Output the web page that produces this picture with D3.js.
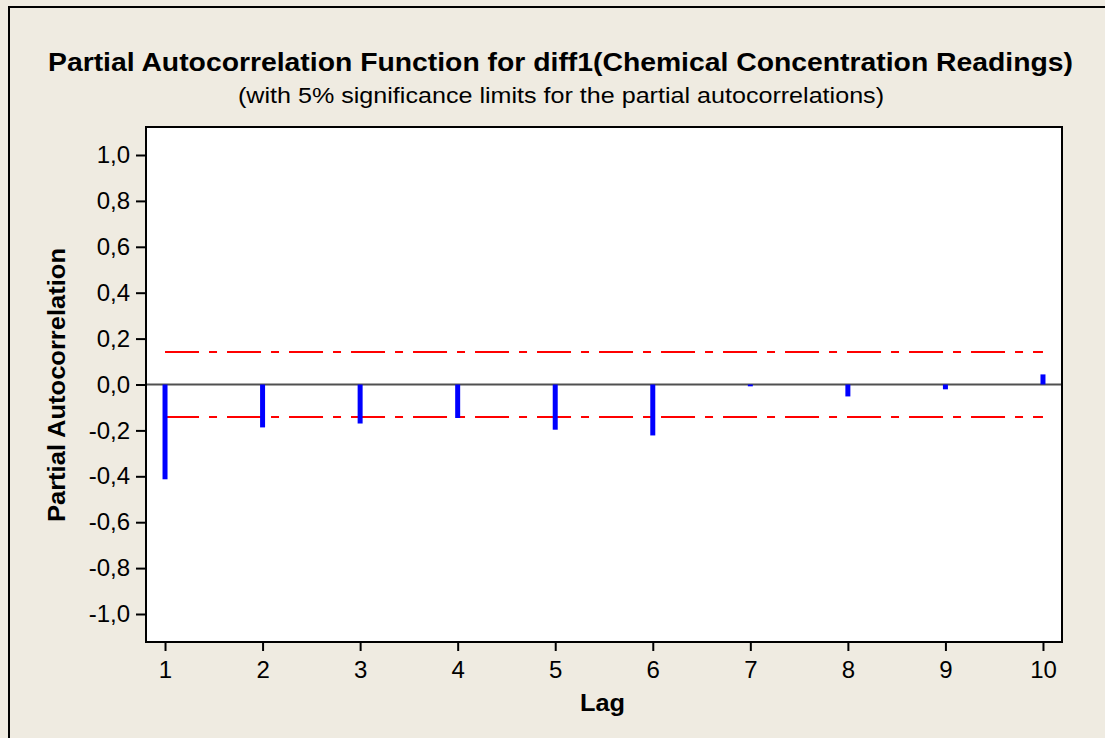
<!DOCTYPE html>
<html>
<head>
<meta charset="utf-8">
<script src="https://cdn.jsdelivr.net/npm/d3@7"></script>
<style>
  body { margin: 0; background: #EFEBE1; }
  svg { display: block; }
  text { font-family: "Liberation Sans", Arial, sans-serif; fill: #000; }
</style>
</head>
<body>
<div id="chart"></div>
<script>
// ========= Data =========
const lags = [1, 2, 3, 4, 5, 6, 7, 8, 9, 10];
const pacf = [-0.413, -0.187, -0.170, -0.146, -0.197, -0.222, -0.008, -0.052, -0.021, 0.044];
const yTicks = [-1.0, -0.8, -0.6, -0.4, -0.2, 0.0, 0.2, 0.4, 0.6, 0.8, 1.0];
const sigLimit = [0.1414, -0.1414];

const title = 'Partial Autocorrelation Function for diff1(Chemical Concentration Readings)';
const subtitle = '(with 5% significance limits for the partial autocorrelations)';

// ========= Layout =========
const width = 1105, height = 738;
const plot = {left: 146, right: 1062, top: 127, bottom: 642};

const svg = d3.select('#chart')
  .append('svg')
  .attr('width', width)
  .attr('height', height);

svg.append('rect')
  .attr('x', 0).attr('y', 0)
  .attr('width', width).attr('height', height)
  .attr('fill', '#EFEBE1');

// outer frame (only top/left visible in the picture)
svg.append('path')
  .attr('d', `M9,${height} V7 H${width}`)
  .attr('fill', 'none')
  .attr('stroke', '#000')
  .attr('stroke-width', 2);

const x = d3.scaleLinear().domain([0.805, 10.195]).range([plot.left, plot.right]);
const y = d3.scaleLinear().domain([-1.122, 1.122]).range([plot.bottom, plot.top]);

const locale = d3.formatLocale({decimal: ',', thousands: '.', grouping: [3], currency: ['', ''], minus: '-'});
const fmt = locale.format('.1f');

// plot background
svg.append('rect')
  .attr('x', plot.left).attr('y', plot.top)
  .attr('width', plot.right - plot.left)
  .attr('height', plot.bottom - plot.top)
  .attr('fill', '#fff');

// ========= Axes =========
const yAxis = svg.append('g')
  .attr('transform', `translate(${plot.left},0)`)
  .call(d3.axisLeft(y).tickValues(yTicks).tickFormat(fmt).tickSize(10).tickPadding(6));

const xAxis = svg.append('g')
  .attr('transform', `translate(0,${plot.bottom})`)
  .call(d3.axisBottom(x).tickValues(lags).tickFormat(d3.format('d')).tickSize(9).tickPadding(10));

[yAxis, xAxis].forEach(g => {
  g.select('.domain').remove();
  g.selectAll('line').attr('stroke', '#000').attr('stroke-width', 2);
  g.selectAll('text')
    .style('font-family', '"Liberation Sans", Arial, sans-serif')
    .style('font-size', '24px')
    .attr('fill', '#000');
});

// ========= Zero line & limits =========
svg.append('line')
  .attr('x1', plot.left).attr('x2', plot.right)
  .attr('y1', y(0)).attr('y2', y(0))
  .attr('stroke', '#505050')
  .attr('stroke-width', 2);

svg.selectAll('.limit')
  .data(sigLimit)
  .enter()
  .append('line')
  .attr('class', 'limit')
  .attr('x1', x(lags[0]))
  .attr('x2', x(lags[lags.length - 1]))
  .attr('y1', d => y(d))
  .attr('y2', d => y(d))
  .attr('stroke', '#FF0000')
  .attr('stroke-width', 2)
  .attr('stroke-dasharray', '34,10,8,10');

// ========= Bars =========
svg.selectAll('.bar')
  .data(lags)
  .enter()
  .append('line')
  .attr('class', 'bar')
  .attr('x1', d => x(d))
  .attr('x2', d => x(d))
  .attr('y1', y(0))
  .attr('y2', (d, i) => y(pacf[i]))
  .attr('stroke', '#0000FF')
  .attr('stroke-width', 5);

// plot frame
svg.append('rect')
  .attr('x', plot.left).attr('y', plot.top)
  .attr('width', plot.right - plot.left)
  .attr('height', plot.bottom - plot.top)
  .attr('fill', 'none')
  .attr('stroke', '#000')
  .attr('stroke-width', 2);

// ========= Titles =========
// the source fonts run wider than Liberation Sans, so widths are pinned
svg.append('text')
  .attr('x', 560.5).attr('y', 71)
  .attr('text-anchor', 'middle')
  .attr('textLength', 1025)
  .attr('lengthAdjust', 'spacingAndGlyphs')
  .style('font-size', '26px')
  .style('font-weight', 'bold')
  .text(title);

svg.append('text')
  .attr('x', 561).attr('y', 103)
  .attr('text-anchor', 'middle')
  .attr('textLength', 646)
  .attr('lengthAdjust', 'spacingAndGlyphs')
  .style('font-size', '22px')
  .text(subtitle);

svg.append('text')
  .attr('x', 602.5).attr('y', 711)
  .attr('text-anchor', 'middle')
  .attr('textLength', 45)
  .attr('lengthAdjust', 'spacingAndGlyphs')
  .style('font-size', '23px')
  .style('font-weight', 'bold')
  .text('Lag');

svg.append('text')
  .attr('transform', `translate(65,385) rotate(-90)`)
  .attr('text-anchor', 'middle')
  .attr('textLength', 274)
  .attr('lengthAdjust', 'spacingAndGlyphs')
  .style('font-size', '23px')
  .style('font-weight', 'bold')
  .text('Partial Autocorrelation');
</script>
</body>
</html>
